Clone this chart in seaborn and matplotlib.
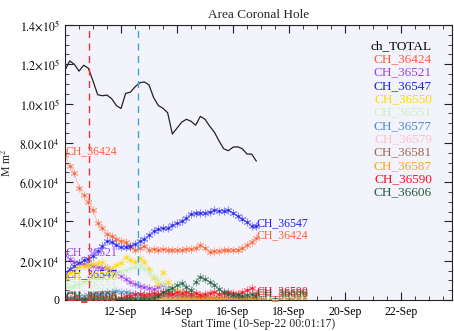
import numpy as np
import pandas as pd
import matplotlib
matplotlib.use("Agg")
import matplotlib.pyplot as plt
import seaborn as sns
from matplotlib.ticker import FixedLocator, MultipleLocator

sns.set_style("ticks")
plt.rcParams['font.family'] = ['Liberation Serif', 'DejaVu Serif']
plt.rcParams['mathtext.fontset'] = 'stix'

# ---- data (time in days since 10-Sep-22 00:00, 4-hourly) ----
step_days = 1.0 / 6.0
n_points = 42

total = [117, 121.7, 120, 116.5, 119.5, 118, 111.5, 104.5, 104, 104.3,
         102.5, 99, 97.5, 105.2, 105.8, 108.5, 110.6, 111, 109.5, 103,
         99, 97.6, 95.3, 84.5, 87.5, 90.5, 92, 91, 89, 93.5,
         92, 88.5, 85.5, 81, 77, 76, 77.8, 78, 77, 74.3,
         74.3, 70.7]

ch_names = ["CH_36424", "CH_36521", "CH_36547", "CH_36550", "CH_36551", "CH_36577",
            "CH_36579", "CH_36581", "CH_36587", "CH_36590", "CH_36606"]
ch_colors = ["#ff6030", "#a040f0", "#2020f0", "#ffd700", "#c8f0c0", "#4a90c8",
             "#ffc0cb", "#a06a50", "#ffa520", "#ff1020", "#1e6040"]

ch_values = {
    "CH_36424": [74, 68.4, 64.5, 57, 53.5, 50, 46, 39, 36.5, 33.5,
                 32.4, 31, 29.8, 29.5, 27, 25.4, 26.3, 27.5, 25.7, 25.8,
                 25.6, 25.8, 25.5, 25.7, 25.4, 25.3, 25.8, 26.2, 26.5, 27.8,
                 26.5, 24.6, 24.8, 25.2, 25.4, 25.3, 25.5, 25.6, 26.5, 28,
                 29.7, 31.4],
    "CH_36521": [23, 20.7, 19.6, 19, 18.5, 18, 17.5, 16.8, 16.3, 16.2,
                 15, 13.8, 12, 10.5, 9, 8, 7.2, 6.5, 6, 5.5,
                 6.5, 7.5, 6, 5, 4.5, 4, 3.5, 3, 2.5, 2,
                 1.8, 1.5, 1.2, 1, 1, 1, 0.8, 0.8, 0.8, 0.6,
                 0.6, 0.5],
    "CH_36547": [11.5, 16, 17.2, 19, 20.2, 21, 22.5, 25, 27.5, 30,
                 29.5, 27.8, 26.9, 27.1, 27.7, 28.5, 30, 31.2, 33, 35,
                 36.3, 36.5, 36.5, 38, 39, 40.2, 41.5, 44, 44.2, 44.3,
                 44.4, 44.8, 45.8, 45.5, 45.5, 45.8, 44.5, 42.6, 41.2, 39.5,
                 37.5, 37.5],
    "CH_36550": [10.5, 13.5, 15, 17, 17.5, 18, 18.5, 19, 19.5, 17,
                 16, 18, 19, 22, 20.4, 19.5, 21.2, 19.5, 16, 11,
                 8, 14.5, 9.3, 6, 5, 4, 3.5, 3, 2.5, 2,
                 1.5, 1.5, 1.2, 1.2, 1, 1, 1, 0.8, 0.8, 0.8,
                 0.6, 0.5],
    "CH_36551": [6, 6.5, 7, 8, 9, 10, 11, 11.5, 12, 13,
                 13.5, 14, 15, 15.5, 16.5, 17, 17.5, 16, 14, 12,
                 10, 8, 6, 5, 4.5, 4, 3.5, 3, 3, 2.5,
                 2.5, 2, 2, 2, 1.5, 1.5, 1.5, 1.2, 1.2, 1,
                 1, 1],
    "CH_36577": [1, 1, 1.5, 2, 2, 2.5, 3, 3, 3.5, 4,
                 4, 4.5, 4, 4, 3.5, 3, 3, 2.5, 2.5, 2,
                 2, 2, 1.5, 1.5, 1, 1, 1, 1, 0.5, 0.5,
                 0.5, 0.5, 0.5, 0.5, 0.5, 0.5, 0.5, 0.5, 0.5, 0.5,
                 0.5, 0.5],
    "CH_36579": [0, 0, 0, 0, 0, 0, 0, 0, 0, 0,
                 0, 0.5, 0.5, 1, 1, 1.5, 1.5, 2, 2, 2.5,
                 2.5, 3, 3, 2.5, 2.5, 2, 2, 2.5, 3, 2.5,
                 2, 2, 1.5, 1.5, 2, 2, 2.5, 3, 3, 2.5,
                 2, 1.5],
    "CH_36581": [0, 0, 0, 0, 0, 0, 0, 0, 0, 0,
                 0, 0, 0, 0.5, 0.5, 1, 1, 1.5, 1.5, 2,
                 2, 2.5, 2.5, 3, 2.5, 2, 2, 2, 1.5, 1.5,
                 1.5, 1, 1, 1, 1, 1, 1, 1, 1, 1,
                 1, 1],
    "CH_36587": [0.5, 0.5, 0.5, 0.5, 0.5, 0.5, 0.5, 0.5, 0.5, 0.5,
                 0.5, 0.5, 0.5, 0.5, 0.5, 0.5, 0.5, 0.5, 0.5, 0.5,
                 0.5, 0.5, 0.5, 0.5, 0.5, 0.5, 0.5, 0.5, 0.5, 0.5,
                 0.5, 0.5, 0.5, 0.5, 0.5, 0.5, 0.5, 0.5, 0.5, 0.5,
                 0.5, 0.5],
    "CH_36590": [0, 0, 0, 0, 0, 0, 0, 0, 0, 0,
                 0, 0, 1, 2, 2, 3, 3, 2.5, 3, 3.5,
                 3, 4, 3.5, 3, 4, 3.5, 4, 3, 3.5, 2.5,
                 3, 3.5, 4, 3, 3.5, 4, 3.5, 3, 4, 5,
                 6, 3],
    "CH_36606": [0.3, 0.3, 0.3, 0.3, 0.3, 0.3, 0.3, 0.3, 0.3, 0.3,
                 0.3, 0.3, 0.3, 0.3, 0.3, 0.3, 0.3, 0.3, 0.5, 1,
                 2, 4, 5, 6, 7.5, 8.5, 6.5, 5, 9.3, 11.9,
                 10.5, 9.2, 7.8, 5.5, 4, 3, 2.5, 2.5, 2, 2.5,
                 3, 2],
}

event_days = [0.87, 2.62]
event_colors = ["#ee3030", "#3ca8d0"]

xtick_pos = [2, 4, 6, 8, 10, 12]
xtick_labels = ["12-Sep", "14-Sep", "16-Sep", "18-Sep", "20-Sep", "22-Sep"]
ytick_pos = [0, 2e4, 4e4, 6e4, 8e4, 1.0e5, 1.2e5, 1.4e5]
ytick_labels = ["0", r"$2.0{\times}10^{4}$", r"$4.0{\times}10^{4}$", r"$6.0{\times}10^{4}$",
                r"$8.0{\times}10^{4}$", r"$1.0{\times}10^{5}$", r"$1.2{\times}10^{5}$",
                r"$1.4{\times}10^{5}$"]

days = np.arange(n_points) * step_days

# ---- figure ----
fig = plt.figure(figsize=(4.54, 3.31), dpi=100)
fig.patch.set_facecolor("white")
ax = fig.add_axes([65 / 454, 31 / 331, 387 / 454, 275 / 331])
ax.set_facecolor("#f3f3fb")

for xv, c in zip(event_days, event_colors):
    ax.axvline(xv, color=c, lw=1.0, ls=(0, (5, 4)), zorder=5)

asterisk = (6, 2, 0)
for name, col in zip(ch_names, ch_colors):
    vals = np.array(ch_values[name]) * 1000.0
    df = pd.DataFrame({"day": days, "area": vals})
    sns.lineplot(data=df, x="day", y="area", ax=ax, color=col, lw=0.5, alpha=0.45,
                 marker=asterisk, markersize=5.5, markeredgewidth=0.8,
                 markeredgecolor=col, zorder=2)
    ax.plot(days, vals, ls="none", marker=".", ms=2.0, color=col, alpha=0.8, zorder=2)
    ax.text(days[0], vals[0], name, color=col, fontsize=8.5, ha="left", va="baseline", zorder=4)
    ax.text(days[-1], vals[-1], name, color=col, fontsize=8.5, ha="left", va="baseline", zorder=4)

df_tot = pd.DataFrame({"day": days, "area": np.array(total) * 1000.0})
sns.lineplot(data=df_tot, x="day", y="area", ax=ax, color="#222222", lw=0.9, zorder=3)

ax.set_xlim(0, 387 / 28)
ax.set_ylim(0, 1.4e5)
ax.xaxis.set_major_locator(FixedLocator(xtick_pos))
ax.set_xticklabels(xtick_labels)
ax.xaxis.set_minor_locator(MultipleLocator(0.5))
ax.yaxis.set_major_locator(FixedLocator(ytick_pos))
ax.set_yticklabels(ytick_labels)
ax.yaxis.set_minor_locator(MultipleLocator(5000))
ax.tick_params(which="both", direction="in", top=True, right=True, colors="#222222",
               labelsize=8.5, labelcolor="black")
ax.tick_params(which="major", length=6, width=0.8, pad=4)
ax.tick_params(which="minor", length=3, width=0.6)
for sp in ax.spines.values():
    sp.set_color("#222222")
    sp.set_linewidth(0.8)

ax.set_xlabel("Start Time (10-Sep-22 00:01:17)", fontsize=8.5, labelpad=0)
ax.set_ylabel(r"M m$^{2}$", fontsize=8.5, labelpad=4)
ax.set_title("Area Coronal Hole", fontsize=9.5, pad=5)

# legend as coloured text
leg_names = ["ch_TOTAL"] + ch_names
leg_colors = ["black"] + ch_colors
for i, (nm, col) in enumerate(zip(leg_names, leg_colors)):
    fig.text(432 / 454, 1 - (46 + i * 13.3) / 331, nm, color=col, fontsize=9.5,
             ha="right", va="center")

fig.savefig("out.png", dpi=100)
